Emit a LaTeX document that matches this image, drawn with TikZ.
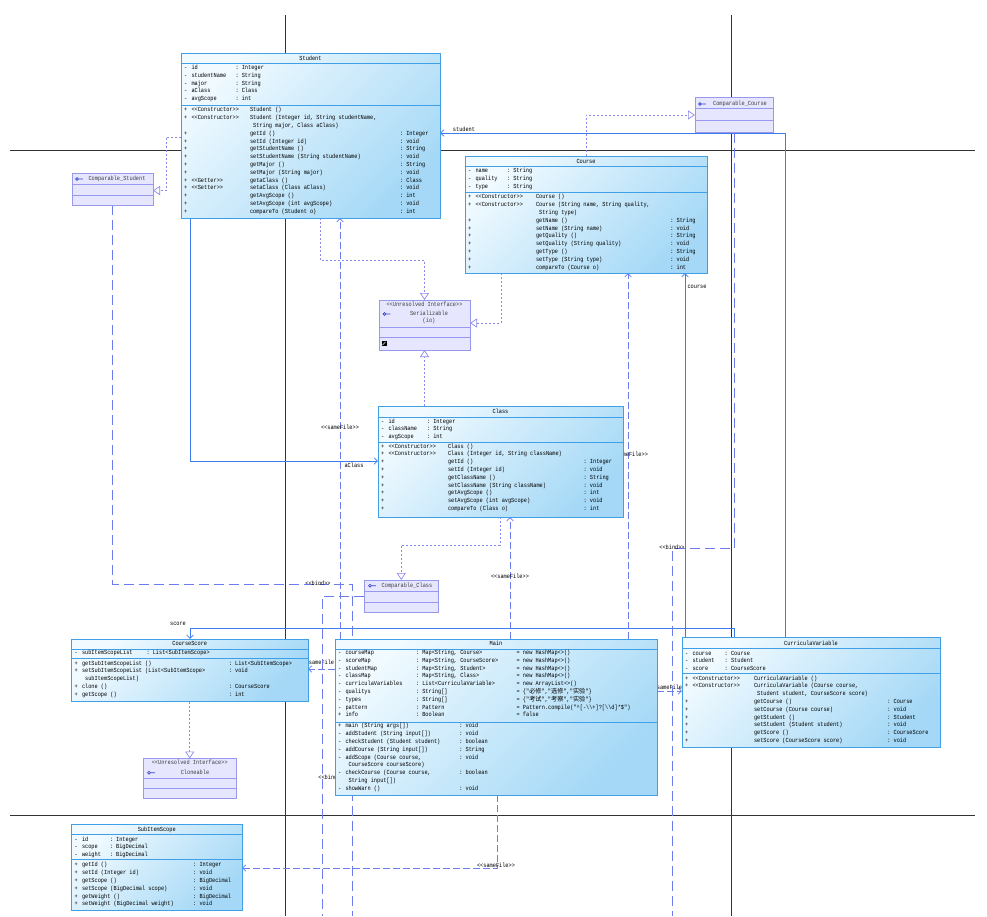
\documentclass[tikz,border=0pt]{standalone}
\usepackage{fontspec}
\setmonofont{Liberation Mono}[FakeStretch=0.85]
\newfontfamily\cjk{Noto Sans CJK SC}
\usepackage{array}
\usetikzlibrary{arrows.meta}
\pgfdeclarelayer{bg}
\pgfsetlayers{bg,main}
\definecolor{clsborder}{HTML}{3FA0E8}
\definecolor{clstop}{HTML}{F0FAFF}
\definecolor{clsbot}{HTML}{A4D8F6}
\definecolor{ifborder}{HTML}{9898EE}
\definecolor{iffill}{HTML}{E6E6FF}
\definecolor{assoccol}{HTML}{3C7CEC}
\definecolor{realcol}{HTML}{8A8AEE}
\definecolor{depcol}{HTML}{6C7CEE}
\definecolor{pagecol}{HTML}{333333}
\definecolor{iconcol}{HTML}{2E3FC8}
\newcommand\ttsz{\ttfamily\fontsize{6.2}{7.8}\selectfont}
\tikzset{
  every node/.style={font=\ttsz, inner sep=0pt, outer sep=0pt},
  clsbox/.style={rectangle, draw=clsborder, line width=0.8pt, top color=clstop, bottom color=clsbot, shading angle=45, anchor=north west},
  ifbox/.style={rectangle, draw=ifborder, line width=0.8pt, fill=iffill, anchor=north west},
  rows/.style={anchor=north west},
  ttl/.style={anchor=base},
  iftxt/.style={anchor=base, text=black!75},
  lbl/.style={anchor=base},
  assoc/.style={draw=assoccol, line width=0.7pt, -{Straight Barb[length=3.5pt,width=6.5pt]}},
  real/.style={draw=realcol, line width=0.7pt, dash pattern=on 2pt off 2pt, -{Triangle[open,length=7pt,width=9pt,fill=white]}},
  dep/.style={draw=depcol, line width=0.7pt, dash pattern=on 7pt off 3pt, -{Straight Barb[length=3.5pt,width=6.5pt]}},
  bindln/.style={draw=depcol, line width=0.7pt, dash pattern=on 10pt off 5pt},
  pageln/.style={draw=pagecol, line width=0.8pt},
  icon/.style={draw=iconcol, line width=0.6pt},
}
\newcommand\compline[3]{\draw[draw=#3, line width=0.8pt] ([yshift=-#2pt]#1.north west) -- ([yshift=-#2pt]#1.north east);}
\newcommand\lolli[3]{\draw[icon] ([xshift=#2pt,yshift=-#3pt]#1.north west) circle[radius=1.4pt] ++(1.4pt,0) -- ++(4.5pt,0);}
\begin{document}
\begin{tikzpicture}[x=1pt,y=-1pt]
\useasboundingbox (0,0) rectangle (987,916);
\begin{pgfonlayer}{bg}
\fill[white] (0,0) rectangle (987,916);
\draw[pageln] (285,15) -- (285,916);
\draw[pageln] (731,15) -- (731,916);
\draw[pageln] (10,150) -- (975,150);
\draw[pageln] (10,815) -- (975,815);
\end{pgfonlayer}

% ---------------- Student
\node[clsbox, minimum width=259pt, minimum height=165pt] (stu) at (181,53) {};
\compline{stu}{10.5}{clsborder}
\compline{stu}{52}{clsborder}
\node[ttl] (stuT) at ([yshift=-7.2pt]stu.north) {Student};
\node[rows] (stuA) at ([xshift=3pt,yshift=-11pt]stu.north west) {\begin{tabular}{@{}w{l}{7.5pt}@{}w{l}{44pt}@{}l@{}}
- & id & : Integer\\
- & studentName & : String\\
- & major & : String\\
- & aClass & : Class\\
- & avgScope & : int
\end{tabular}};
\node[rows] (stuM) at ([xshift=3pt,yshift=-53.4pt]stu.north west) {\begin{tabular}{@{}w{l}{7.5pt}@{}w{l}{58.5pt}@{}w{l}{150pt}@{}l@{}}
+ & <<Constructor>> & Student () & \\
+ & <<Constructor>> & Student (Integer id, String studentName, & \\
 & & \ String major, Class aClass) & \\
+ & & getId () & : Integer\\
+ & & setId (Integer id) & : void\\
+ & & getStudentName () & : String\\
+ & & setStudentName (String studentName) & : void\\
+ & & getMajor () & : String\\
+ & & setMajor (String major) & : void\\
+ & <<Getter>> & getaClass () & : Class\\
+ & <<Setter>> & setaClass (Class aClass) & : void\\
+ & & getAvgScope () & : int\\
+ & & setAvgScope (int avgScope) & : void\\
+ & & compareTo (Student o) & : int
\end{tabular}};

% ---------------- Course
\node[clsbox, minimum width=242pt, minimum height=117pt] (crs) at (465,156) {};
\compline{crs}{10}{clsborder}
\compline{crs}{36}{clsborder}
\node[ttl] (crsT) at ([yshift=-7.2pt]crs.north) {Course};
\node[rows] (crsA) at ([xshift=3pt,yshift=-11.4pt]crs.north west) {\begin{tabular}{@{}w{l}{7.5pt}@{}w{l}{31.5pt}@{}l@{}}
- & name & : String\\
- & quality & : String\\
- & type & : String
\end{tabular}};
\node[rows] (crsM) at ([xshift=3pt,yshift=-37.4pt]crs.north west) {\begin{tabular}{@{}w{l}{7.5pt}@{}w{l}{60.5pt}@{}w{l}{134.3pt}@{}l@{}}
+ & <<Constructor>> & Course () & \\
+ & <<Constructor>> & Course (String name, String quality, & \\
 & & \ String type) & \\
+ & & getName () & : String\\
+ & & setName (String name) & : void\\
+ & & getQuality () & : String\\
+ & & setQuality (String quality) & : void\\
+ & & getType () & : String\\
+ & & setType (String type) & : void\\
+ & & compareTo (Course o) & : int
\end{tabular}};

% ---------------- Class
\node[clsbox, minimum width=245pt, minimum height=111pt] (cls) at (378,406) {};
\compline{cls}{11}{clsborder}
\compline{cls}{36.3}{clsborder}
\node[ttl] (clsT) at ([yshift=-7.6pt]cls.north) {Class};
\node[rows] (clsA) at ([xshift=3pt,yshift=-11.7pt]cls.north west) {\begin{tabular}{@{}w{l}{7.5pt}@{}w{l}{38.5pt}@{}l@{}}
- & id & : Integer\\
- & className & : String\\
- & avgScope & : int
\end{tabular}};
\node[rows] (clsM) at ([xshift=3pt,yshift=-36.7pt]cls.north west) {\begin{tabular}{@{}w{l}{7.5pt}@{}w{l}{59.5pt}@{}w{l}{135.6pt}@{}l@{}}
+ & <<Constructor>> & Class () & \\
+ & <<Constructor>> & Class (Integer id, String className) & \\
+ & & getId () & : Integer\\
+ & & setId (Integer id) & : void\\
+ & & getClassName () & : String\\
+ & & setClassName (String className) & : void\\
+ & & getAvgScope () & : int\\
+ & & setAvgScope (int avgScope) & : void\\
+ & & compareTo (Class o) & : int
\end{tabular}};

% ---------------- Main
\node[clsbox, minimum width=322pt, minimum height=156pt] (main) at (335,639) {};
\compline{main}{10}{clsborder}
\compline{main}{83}{clsborder}
\node[ttl] (mainT) at ([yshift=-6.6pt]main.north) {Main};
\node[rows] (mainA) at ([xshift=3pt,yshift=-10pt]main.north west) {\begin{tabular}{@{}w{l}{7.5pt}@{}w{l}{70.5pt}@{}w{l}{100.6pt}@{}l@{}}
- & courseMap & : Map<String, Course> & = new HashMap<>()\\
- & scoreMap & : Map<String, CourseScore> & = new HashMap<>()\\
- & studentMap & : Map<String, Student> & = new HashMap<>()\\
- & classMap & : Map<String, Class> & = new HashMap<>()\\
- & curriculaVariables & : List<CurriculaVariable> & = new ArrayList<>()\\
- & qualitys & : String[] & = \{"{\cjk 必修}","{\cjk 选修}","{\cjk 实验}"\}\\
- & types & : String[] & = \{"{\cjk 考试}","{\cjk 考察}","{\cjk 实验}"\}\\
- & pattern & : Pattern & = Pattern.compile("\textasciicircum[-\textbackslash\textbackslash+]?[\textbackslash\textbackslash{}d]*\$")\\
+ & info & : Boolean & = false
\end{tabular}};
\node[rows] (mainM) at ([xshift=3pt,yshift=-83.4pt]main.north west) {\begin{tabular}{@{}w{l}{7.5pt}@{}w{l}{113.8pt}@{}l@{}}
+ & main (String args[]) & : void\\
- & addStudent (String input[]) & : void\\
- & checkStudent (Student student) & : boolean\\
- & addCourse (String input[]) & : String\\
- & addScope (Course course, & : void\\
 & \ CourseScore courseScore) & \\
- & checkCourse (Course course, & : boolean\\
 & \ String input[]) & \\
- & showWarn () & : void
\end{tabular}};

% ---------------- CurriculaVariable
\node[clsbox, minimum width=258pt, minimum height=110pt] (cv) at (682,637.5) {};
\compline{cv}{10.5}{clsborder}
\compline{cv}{36}{clsborder}
\node[ttl] (cvT) at ([yshift=-7.9pt]cv.north) {CurriculaVariable};
\node[rows] (cvA) at ([xshift=3pt,yshift=-12.2pt]cv.north west) {\begin{tabular}{@{}w{l}{7.5pt}@{}w{l}{32.2pt}@{}l@{}}
- & course & : Course\\
- & student & : Student\\
- & score & : CourseScore
\end{tabular}};
\node[rows] (cvM) at ([xshift=3pt,yshift=-37.2pt]cv.north west) {\begin{tabular}{@{}w{l}{7.5pt}@{}w{l}{61.5pt}@{}w{l}{133.3pt}@{}l@{}}
+ & <<Constructor>> & CurriculaVariable () & \\
+ & <<Constructor>> & CurriculaVariable (Course course, & \\
 & & \ Student student, CourseScore score) & \\
+ & & getCourse () & : Course\\
+ & & setCourse (Course course) & : void\\
+ & & getStudent () & : Student\\
+ & & setStudent (Student student) & : void\\
+ & & getScore () & : CourseScore\\
+ & & setScore (CourseScore score) & : void
\end{tabular}};

% ---------------- CourseScore
\node[clsbox, minimum width=236.5pt, minimum height=62.5pt] (cs) at (71.5,639) {};
\compline{cs}{10}{clsborder}
\compline{cs}{19}{clsborder}
\node[ttl] (csT) at ([yshift=-6.6pt]cs.north) {CourseScore};
\node[rows] (csA) at ([xshift=3pt,yshift=-10pt]cs.north west) {\begin{tabular}{@{}w{l}{7.5pt}@{}w{l}{64.5pt}@{}l@{}}
- & subItemScopeList & : List<SubItemScope>
\end{tabular}};
\node[rows] (csM) at ([xshift=3pt,yshift=-20.7pt]cs.north west) {\begin{tabular}{@{}w{l}{7.5pt}@{}w{l}{146.8pt}@{}l@{}}
+ & getSubItemScopeList () & : List<SubItemScope>\\
+ & setSubItemScopeList (List<SubItemScope> & : void\\
 & \ subItemScopeList) & \\
+ & clone () & : CourseScore\\
+ & getScope () & : int
\end{tabular}};

% ---------------- SubItemScope
\node[clsbox, minimum width=170.5pt, minimum height=86.5pt] (sis) at (71.5,824) {};
\compline{sis}{10}{clsborder}
\compline{sis}{35.3}{clsborder}
\node[ttl] (sisT) at ([yshift=-7.1pt]sis.north) {SubItemScope};
\node[rows] (sisA) at ([xshift=3pt,yshift=-11.7pt]sis.north west) {\begin{tabular}{@{}w{l}{7.5pt}@{}w{l}{27.8pt}@{}l@{}}
- & id & : Integer\\
- & scope & : BigDecimal\\
- & weight & : BigDecimal
\end{tabular}};
\node[rows] (sisM) at ([xshift=3pt,yshift=-37.4pt]sis.north west) {\begin{tabular}{@{}w{l}{7.5pt}@{}w{l}{111.2pt}@{}l@{}}
+ & getId () & : Integer\\
+ & setId (Integer id) & : void\\
+ & getScope () & : BigDecimal\\
+ & setScope (BigDecimal scope) & : void\\
+ & getWeight () & : BigDecimal\\
+ & setWeight (BigDecimal weight) & : void
\end{tabular}};

% ---------------- Interfaces
\node[ifbox, minimum width=91pt, minimum height=50pt] (ser) at (379,300) {};
\compline{ser}{27}{ifborder}
\compline{ser}{37}{ifborder}
\node[iftxt] (serS) at ([yshift=-6.8pt]ser.north) {<<Unresolved Interface>>};
\node[iftxt] (serN) at ([xshift=4.5pt,yshift=-15.8pt]ser.north) {Serializable};
\node[iftxt] (serP) at ([xshift=4.5pt,yshift=-22pt]ser.north) {(io)};
\lolli{ser}{5.5}{14}
\fill[black] ([xshift=2.5pt,yshift=-41pt]ser.north west) rectangle ++(5pt,-5pt);
\draw[white, line width=0.5pt] ([xshift=3.6pt,yshift=-44.9pt]ser.north west) -- ++(2.8pt,2.8pt);

\node[ifbox, minimum width=81pt, minimum height=31.5pt] (cmpS) at (72,173.5) {};
\compline{cmpS}{10.5}{ifborder}
\compline{cmpS}{21.5}{ifborder}
\node[iftxt] (cmpST) at ([xshift=45pt,yshift=-7.3pt]cmpS.north west) {Comparable\_Student};
\lolli{cmpS}{5}{5.5}

\node[ifbox, minimum width=78pt, minimum height=35pt] (cmpC) at (695,97.5) {};
\compline{cmpC}{11}{ifborder}
\compline{cmpC}{22.5}{ifborder}
\node[iftxt] (cmpCT) at ([xshift=45pt,yshift=-8.3pt]cmpC.north west) {Comparable\_Course};
\lolli{cmpC}{5}{6.5}

\node[ifbox, minimum width=74.5pt, minimum height=32.5pt] (cmpK) at (364,580) {};
\compline{cmpK}{11}{ifborder}
\compline{cmpK}{22}{ifborder}
\node[iftxt] (cmpKT) at ([xshift=43pt,yshift=-7.4pt]cmpK.north west) {Comparable\_Class};
\lolli{cmpK}{6}{5.7}

\node[ifbox, minimum width=92.5pt, minimum height=40pt] (clo) at (143.5,758.5) {};
\compline{clo}{20}{ifborder}
\compline{clo}{30}{ifborder}
\node[iftxt] (cloS) at ([yshift=-6pt]clo.north) {<<Unresolved Interface>>};
\node[iftxt] (cloN) at ([xshift=5.25pt,yshift=-16pt]clo.north) {Cloneable};
\lolli{clo}{5.5}{14.2}

% ---------------- Connectors (behind boxes)
\begin{pgfonlayer}{bg}
\coordinate (offA) at (352,916);
\coordinate (offB) at (322,916);
\coordinate (offC) at (672,916);
% realizations
\draw[real] ([yshift=-84pt]stu.north west) -- (166,137) -- (166,190.5) -- ([yshift=-17pt]cmpS.north east);
\draw[real] ([xshift=139pt]stu.south west) -- (320,260) -- (424.5,260) -- (ser.north);
\draw[real] ([xshift=36pt]crs.south west) -- (501,323) -- ([yshift=-23pt]ser.north east);
\draw[real] (cls.north -| ser.south) -- (ser.south);
\draw[real] ([xshift=121pt]crs.north west) -- (586,115) -- ([yshift=-17.5pt]cmpC.north west);
\draw[real] ([xshift=122pt]cls.south west) -- (500,545) -- (401.25,545) -- (cmpK.north);
\draw[real] (cs.south -| clo.north) -- (clo.north);
% associations
\draw[assoc] ([xshift=9pt]stu.south west) -- (190,461) -- ([yshift=-55pt]cls.north west);
\node[lbl] (lAclass) at (354,467.6) {aClass};
\draw[assoc] ([xshift=103pt]cv.north west) -- (785,133) -- ([yshift=-80pt]stu.north east);
\node[lbl] (lStudent) at (464,131.6) {student};
\draw[assoc] ([xshift=3pt]cv.north west) -- ([xshift=220pt]crs.south west);
\node[lbl] (lCourse) at (697,288.6) {course};
\draw[assoc] ([xshift=52pt]cv.north west) -- (734,628) -- (190,628) -- ([xshift=118.5pt]cs.north west);
\node[lbl] (lScore) at (178,625.6) {score};
% sameFile dependencies
\draw[dep] ([yshift=-30pt]main.north west) -- ([yshift=-30pt]cs.north east);
\node[lbl] (lSf1) at (321.5,664.6) {sameFile};
\draw[dep] ([yshift=-52pt]main.north east) -- ([yshift=-53.5pt]cv.north west);
\node[lbl] (lSf2) at (669.5,689.6) {sameFile};
\draw[dep] ([xshift=5pt]main.north west) -- ([xshift=159pt]stu.south west);
\node[lbl] (lSf3) at (340,429.6) {<<sameFile>>};
\draw[dep] ([xshift=293pt]main.north west) -- ([xshift=163pt]crs.south west);
\node[lbl] (lSf4) at (629,456.6) {<<sameFile>>};
\draw[dep] ([xshift=175pt]main.north west) -- ([xshift=132pt]cls.south west);
\node[lbl] (lSf5) at (510,578.6) {<<sameFile>>};
\draw[dep] ([xshift=162pt]main.south west) -- (497,868) -- ([yshift=-44pt]sis.north east);
\node[lbl] (lSf6) at (496,867.6) {<<sameFile>>};
% bind
\draw[bindln] (cmpS.south) -- (112.5,584) -- (352,584) -- (offA);
\node[lbl] (lB1) at (318,585.6) {<<bind>>};
\draw[bindln] ([yshift=-16pt]cmpK.north west) -- (322,596) -- (offB);
\node[lbl] (lB2) at (331,779.6) {<<bind>>};
\draw[bindln] ([xshift=39pt]cmpC.south west) -- (734,548) -- (672,548) -- (offC);
\node[lbl] (lB3) at (672,549.6) {<<bind>>};
\end{pgfonlayer}
\end{tikzpicture}
\end{document}
